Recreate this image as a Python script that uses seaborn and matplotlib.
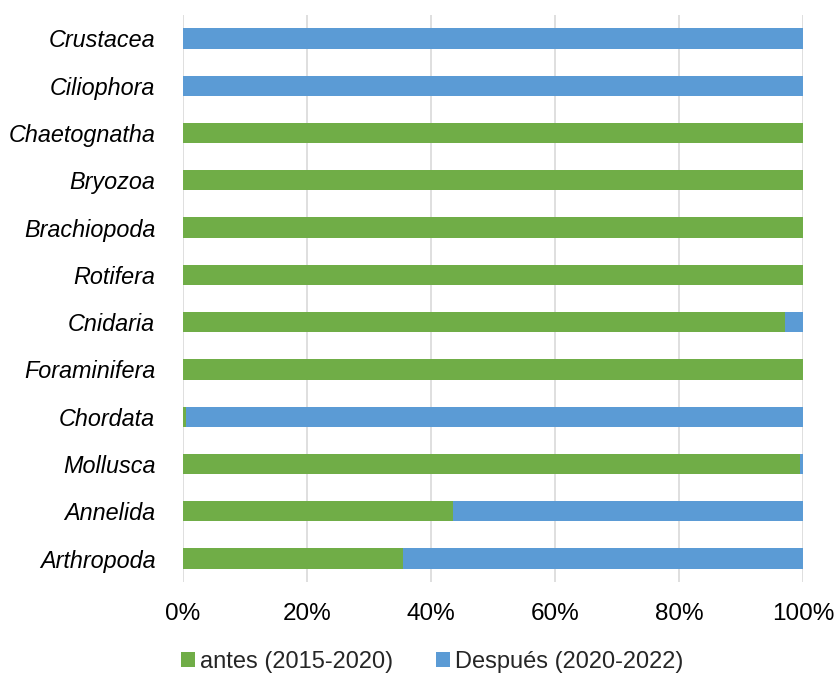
import matplotlib
matplotlib.use("Agg")
import matplotlib.pyplot as plt
import seaborn as sns
import pandas as pd
from matplotlib.patches import Patch

# Share of records per phylum in each period (percent)
phyla = ["Crustacea", "Ciliophora", "Chaetognatha", "Bryozoa", "Brachiopoda",
         "Rotifera", "Cnidaria", "Foraminifera", "Chordata", "Mollusca",
         "Annelida", "Arthropoda"]
antes = [0, 0, 100, 100, 100, 100, 97.1, 100, 0.5, 99.5, 43.5, 35.5]
despues = [100, 100, 0, 0, 0, 0, 2.9, 0, 99.5, 0.5, 56.5, 64.5]
series_names = ["antes (2015-2020)", "Después (2020-2022)"]
x_ticks = [0, 20, 40, 60, 80, 100]

green = "#70AD47"
blue = "#5B9BD5"

sns.set_theme(style="white")
plt.rcParams["font.family"] = ["Liberation Sans", "DejaVu Sans"]

df = pd.DataFrame({
    "phylum": phyla,
    "antes": antes,
    "total": [a + d for a, d in zip(antes, despues)],
})

fig = plt.figure(figsize=(8.36, 6.73), dpi=100)
ax = fig.add_axes([0.219, 0.135, 0.7415, 0.843])

# Stacked bars: full total in blue, first period in green on top
sns.barplot(data=df, y="phylum", x="total", order=phyla, color=blue,
            width=0.43, saturation=1, ax=ax, zorder=3, linewidth=0)
sns.barplot(data=df, y="phylum", x="antes", order=phyla, color=green,
            width=0.43, saturation=1, ax=ax, zorder=4, linewidth=0)

ax.set_xlim(0, 100)
ax.set_ylim(len(phyla) - 0.5, -0.5)
ax.set_xticks(x_ticks)
ax.set_xticklabels([f"{t}%" for t in x_ticks])
ax.xaxis.grid(True, color="#d9d9d9", linewidth=1.2, zorder=0)
ax.set_axisbelow(True)
ax.set_xlabel("")
ax.set_ylabel("")
for s in ax.spines.values():
    s.set_visible(False)

ax.tick_params(axis="x", labelsize=17.5, colors="#000000", pad=15, length=0)
ax.tick_params(axis="y", labelsize=16.8, colors="#000000", pad=20, length=0)
for lbl in ax.get_yticklabels():
    lbl.set_fontstyle("italic")

handles = [Patch(facecolor=green, edgecolor="none"),
           Patch(facecolor=blue, edgecolor="none")]
fig.legend(handles, series_names, loc="center", bbox_to_anchor=(0.517, 0.016),
           ncol=2, frameon=False, fontsize=17, handlelength=0.6,
           handleheight=0.6, handletextpad=0.2, columnspacing=1.8)

fig.savefig("out.png", dpi=100)
